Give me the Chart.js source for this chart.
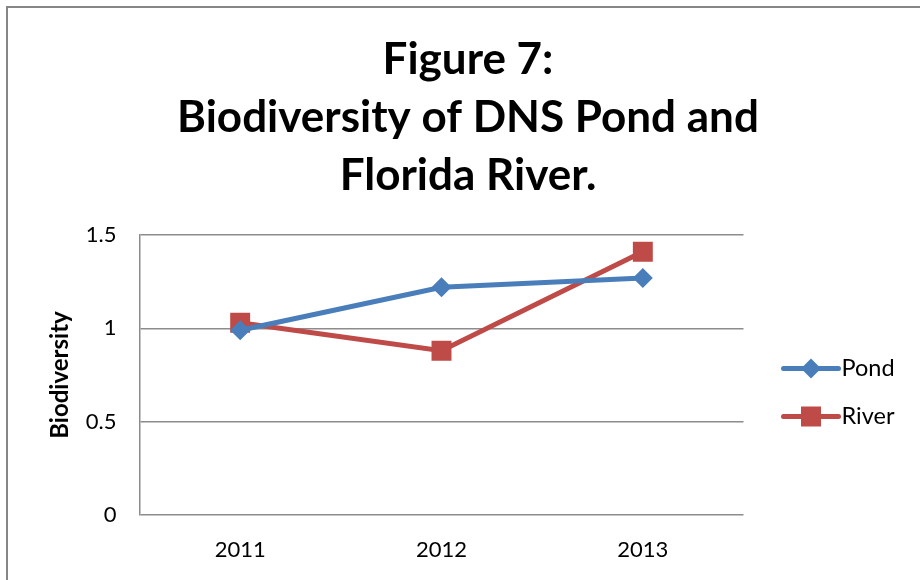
<!DOCTYPE html>
<html>
<head>
<meta charset="utf-8">
<script src="https://cdn.jsdelivr.net/npm/chart.js@4/dist/chart.umd.min.js"></script>
<style>
  html, body { margin: 0; padding: 0; background: #ffffff; }
  #wrap { width: 920px; height: 580px; position: relative; }
</style>
</head>
<body>
<div id="wrap"><canvas id="c" width="920" height="580"></canvas></div>
<script>
// Sampling years and biodiversity index per site
const years = ['2011', '2012', '2013'];
const pond = [0.99, 1.22, 1.27];
const river = [1.03, 0.88, 1.41];
const yTicks = [0, 0.5, 1, 1.5];

const titleLines = ['Figure 7:', 'Biodiversity of DNS Pond and', 'Florida River.'];
const yTitle = 'Biodiversity';

const BLUE = '#4A7EBB';
const RED = '#BE4B48';
const GRID = '#8c8c8c';
const FONT = 'Lato, "Open Sans", sans-serif';
const TITLE_PAD = { top: 31, bottom: 30 };

// Grey frame along the top and left edges
const framePlugin = {
  id: 'frame',
  beforeDraw(chart) {
    const ctx = chart.ctx;
    ctx.save();
    ctx.fillStyle = '#ffffff';
    ctx.fillRect(0, 0, chart.width, chart.height);
    ctx.strokeStyle = '#868686';
    ctx.lineWidth = 2;
    ctx.beginPath();
    ctx.moveTo(7, chart.height);
    ctx.lineTo(7, 7);
    ctx.lineTo(chart.width, 7);
    ctx.stroke();
    ctx.restore();
  }
};

// Legend: a short line with the series marker, then the name
function drawMarker(ctx, style, x, y, color) {
  ctx.fillStyle = color;
  ctx.beginPath();
  if (style === 'rect') {
    ctx.rect(x - 10, y - 10, 20, 20);
  } else {
    ctx.moveTo(x, y - 10);
    ctx.lineTo(x + 10, y);
    ctx.lineTo(x, y + 10);
    ctx.lineTo(x - 10, y);
    ctx.closePath();
  }
  ctx.fill();
}
const legendPlugin = {
  id: 'sideLegend',
  afterDraw(chart) {
    const ctx = chart.ctx;
    const area = chart.chartArea;
    // vertical centre of the space below the title text
    const top = area.top - TITLE_PAD.bottom;
    const x0 = area.right + 40;
    const midY = top + (chart.height - top) / 2;
    const gap = 48;
    const n = chart.data.datasets.length;
    ctx.save();
    chart.data.datasets.forEach((ds, i) => {
      const y = midY - (n - 1) * gap / 2 + i * gap;
      ctx.strokeStyle = ds.borderColor;
      ctx.lineWidth = 5;
      ctx.lineCap = 'round';
      ctx.beginPath();
      ctx.moveTo(x0, y);
      ctx.lineTo(x0 + 55, y);
      ctx.stroke();
      drawMarker(ctx, ds.pointStyle, x0 + 27.5, y, ds.backgroundColor);
      ctx.fillStyle = '#000000';
      ctx.font = '23.5px ' + FONT;
      ctx.textBaseline = 'middle';
      ctx.textAlign = 'left';
      ctx.fillText(ds.label, x0 + 58, y);
    });
    ctx.restore();
  }
};

new Chart(document.getElementById('c'), {
  type: 'line',
  data: {
    labels: years,
    datasets: [
      {
        label: 'Pond',
        data: pond,
        borderColor: BLUE,
        backgroundColor: BLUE,
        borderWidth: 5,
        pointStyle: 'rectRot',
        pointRadius: 10,
        pointBorderWidth: 0,
        tension: 0
      },
      {
        label: 'River',
        data: river,
        borderColor: RED,
        backgroundColor: RED,
        borderWidth: 5,
        pointStyle: 'rect',
        pointRadius: 14.1,
        pointBorderWidth: 0,
        tension: 0
      }
    ]
  },
  options: {
    responsive: false,
    animation: false,
    devicePixelRatio: 1,
    layout: { padding: { left: 16, right: 0, top: 0, bottom: 0 } },
    plugins: {
      legend: { display: false },
      tooltip: { enabled: false },
      title: {
        display: true,
        text: titleLines,
        color: '#000000',
        font: { family: FONT, size: 44, weight: 'bold', lineHeight: 58 / 44 },
        padding: TITLE_PAD
      }
    },
    scales: {
      x: {
        offset: true,
        grid: { display: false, drawTicks: false },
        border: { display: false },
        ticks: { color: '#000000', font: { family: FONT, size: 22 }, padding: 22 },
        afterFit(scale) { scale.height = 65; }
      },
      y: {
        min: 0,
        max: 1.5,
        afterBuildTicks(scale) { scale.ticks = yTicks.map(v => ({ value: v })); },
        grid: { color: GRID, lineWidth: 1.5, drawTicks: false },
        border: { display: true, color: GRID, width: 1.5 },
        ticks: {
          color: '#000000',
          font: { family: FONT, size: 22 },
          padding: 23,
          callback: v => String(v)
        },
        title: {
          display: true,
          text: yTitle,
          color: '#000000',
          font: { family: FONT, size: 24, weight: 'bold' },
          padding: { top: 30, bottom: 0 }
        },
        afterFit(scale) { scale.width = 123.5; }
      },
      // empty right-hand band that holds the legend
      side: {
        type: 'linear',
        position: 'right',
        display: true,
        grid: { display: false, drawTicks: false },
        border: { display: false },
        ticks: { display: false },
        afterFit(scale) { scale.width = 176.5; }
      }
    }
  },
  plugins: [framePlugin, legendPlugin]
});
</script>
</body>
</html>
